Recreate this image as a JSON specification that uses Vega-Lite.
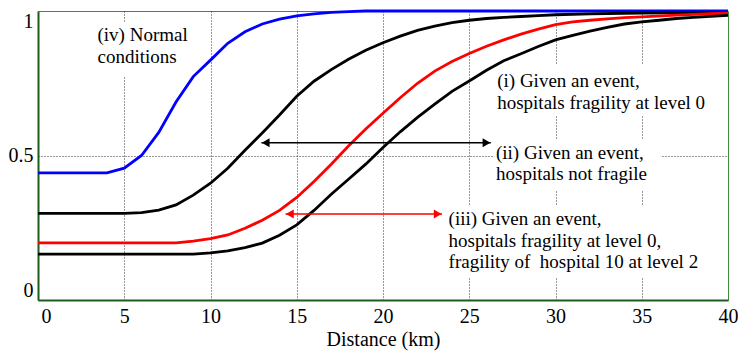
{
  "$schema": "https://vega.github.io/schema/vega-lite/v6.json",
  "width": 690,
  "height": 289,
  "autosize": {"type": "none"},
  "padding": {"left": 38, "top": 11, "right": 10, "bottom": 51},
  "background": "white",
  "config": {
    "view": {"stroke": "#3c8c3c", "strokeWidth": 1},
    "font": "serif"
  },
  "datasets": {
    "curves": [
      {"scenario": "iv", "km": 0, "p": 0.44}, {"scenario": "iv", "km": 4, "p": 0.44}, {"scenario": "iv", "km": 5, "p": 0.456},
      {"scenario": "iv", "km": 6, "p": 0.5}, {"scenario": "iv", "km": 7, "p": 0.58}, {"scenario": "iv", "km": 8, "p": 0.685},
      {"scenario": "iv", "km": 9, "p": 0.773}, {"scenario": "iv", "km": 10, "p": 0.83}, {"scenario": "iv", "km": 11, "p": 0.888},
      {"scenario": "iv", "km": 12, "p": 0.928}, {"scenario": "iv", "km": 13, "p": 0.955}, {"scenario": "iv", "km": 14, "p": 0.972},
      {"scenario": "iv", "km": 15, "p": 0.983}, {"scenario": "iv", "km": 16, "p": 0.99}, {"scenario": "iv", "km": 17, "p": 0.995},
      {"scenario": "iv", "km": 18, "p": 0.998}, {"scenario": "iv", "km": 19, "p": 1}, {"scenario": "iv", "km": 30, "p": 1}, {"scenario": "iv", "km": 40, "p": 1},

      {"scenario": "ii", "km": 0, "p": 0.3}, {"scenario": "ii", "km": 5, "p": 0.3}, {"scenario": "ii", "km": 6, "p": 0.302},
      {"scenario": "ii", "km": 7, "p": 0.311}, {"scenario": "ii", "km": 8, "p": 0.329}, {"scenario": "ii", "km": 9, "p": 0.363},
      {"scenario": "ii", "km": 10, "p": 0.404}, {"scenario": "ii", "km": 11, "p": 0.456}, {"scenario": "ii", "km": 12, "p": 0.518},
      {"scenario": "ii", "km": 13, "p": 0.578}, {"scenario": "ii", "km": 14, "p": 0.64}, {"scenario": "ii", "km": 15, "p": 0.705},
      {"scenario": "ii", "km": 16, "p": 0.757}, {"scenario": "ii", "km": 17, "p": 0.797}, {"scenario": "ii", "km": 18, "p": 0.833},
      {"scenario": "ii", "km": 19, "p": 0.864}, {"scenario": "ii", "km": 20, "p": 0.89}, {"scenario": "ii", "km": 21, "p": 0.913},
      {"scenario": "ii", "km": 22, "p": 0.933}, {"scenario": "ii", "km": 23, "p": 0.948}, {"scenario": "ii", "km": 24, "p": 0.96},
      {"scenario": "ii", "km": 25, "p": 0.968}, {"scenario": "ii", "km": 26, "p": 0.974}, {"scenario": "ii", "km": 27, "p": 0.978},
      {"scenario": "ii", "km": 28, "p": 0.981}, {"scenario": "ii", "km": 29, "p": 0.984}, {"scenario": "ii", "km": 30, "p": 0.987},
      {"scenario": "ii", "km": 32, "p": 0.99}, {"scenario": "ii", "km": 35, "p": 0.993}, {"scenario": "ii", "km": 40, "p": 0.995},

      {"scenario": "iii", "km": 0, "p": 0.198}, {"scenario": "iii", "km": 8, "p": 0.198}, {"scenario": "iii", "km": 9, "p": 0.204},
      {"scenario": "iii", "km": 10, "p": 0.212}, {"scenario": "iii", "km": 11, "p": 0.225}, {"scenario": "iii", "km": 12, "p": 0.248},
      {"scenario": "iii", "km": 13, "p": 0.276}, {"scenario": "iii", "km": 14, "p": 0.31}, {"scenario": "iii", "km": 15, "p": 0.355},
      {"scenario": "iii", "km": 16, "p": 0.41}, {"scenario": "iii", "km": 17, "p": 0.47}, {"scenario": "iii", "km": 18, "p": 0.533},
      {"scenario": "iii", "km": 19, "p": 0.592}, {"scenario": "iii", "km": 20, "p": 0.646}, {"scenario": "iii", "km": 21, "p": 0.7},
      {"scenario": "iii", "km": 22, "p": 0.75}, {"scenario": "iii", "km": 23, "p": 0.792}, {"scenario": "iii", "km": 24, "p": 0.825},
      {"scenario": "iii", "km": 25, "p": 0.853}, {"scenario": "iii", "km": 26, "p": 0.878}, {"scenario": "iii", "km": 27, "p": 0.9},
      {"scenario": "iii", "km": 28, "p": 0.92}, {"scenario": "iii", "km": 29, "p": 0.937}, {"scenario": "iii", "km": 30, "p": 0.953},
      {"scenario": "iii", "km": 31, "p": 0.962}, {"scenario": "iii", "km": 32, "p": 0.968}, {"scenario": "iii", "km": 33, "p": 0.973},
      {"scenario": "iii", "km": 34, "p": 0.977}, {"scenario": "iii", "km": 35, "p": 0.98}, {"scenario": "iii", "km": 37, "p": 0.986},
      {"scenario": "iii", "km": 40, "p": 0.993},

      {"scenario": "i", "km": 0, "p": 0.159}, {"scenario": "i", "km": 9, "p": 0.159}, {"scenario": "i", "km": 10, "p": 0.163},
      {"scenario": "i", "km": 11, "p": 0.17}, {"scenario": "i", "km": 12, "p": 0.181}, {"scenario": "i", "km": 13, "p": 0.197},
      {"scenario": "i", "km": 14, "p": 0.224}, {"scenario": "i", "km": 15, "p": 0.26}, {"scenario": "i", "km": 16, "p": 0.31},
      {"scenario": "i", "km": 17, "p": 0.366}, {"scenario": "i", "km": 18, "p": 0.418}, {"scenario": "i", "km": 19, "p": 0.47},
      {"scenario": "i", "km": 20, "p": 0.528}, {"scenario": "i", "km": 21, "p": 0.582}, {"scenario": "i", "km": 22, "p": 0.632},
      {"scenario": "i", "km": 23, "p": 0.678}, {"scenario": "i", "km": 24, "p": 0.722}, {"scenario": "i", "km": 25, "p": 0.758},
      {"scenario": "i", "km": 26, "p": 0.795}, {"scenario": "i", "km": 27, "p": 0.828}, {"scenario": "i", "km": 28, "p": 0.852},
      {"scenario": "i", "km": 29, "p": 0.877}, {"scenario": "i", "km": 30, "p": 0.9}, {"scenario": "i", "km": 31, "p": 0.916},
      {"scenario": "i", "km": 32, "p": 0.93}, {"scenario": "i", "km": 33, "p": 0.943}, {"scenario": "i", "km": 34, "p": 0.955},
      {"scenario": "i", "km": 35, "p": 0.962}, {"scenario": "i", "km": 36, "p": 0.968}, {"scenario": "i", "km": 37, "p": 0.974},
      {"scenario": "i", "km": 38, "p": 0.978}, {"scenario": "i", "km": 40, "p": 0.985}
    ],
    "boxes": [
      {"box": "iv", "km": 3.3, "km2": 8.9, "p": 0.962, "p2": 0.772},
      {"box": "i", "km": 26.45, "km2": 39.1, "p": 0.813, "p2": 0.64},
      {"box": "ii", "km": 26.45, "km2": 36.1, "p": 0.554, "p2": 0.381},
      {"box": "iii", "km": 23.6, "km2": 38.7, "p": 0.329, "p2": 0.076}
    ],
    "arrows": [
      {"arrow": "black", "km": 12.95, "km2": 26.25, "p": 0.544},
      {"arrow": "red", "km": 14.35, "km2": 23.42, "p": 0.2976}
    ],
    "heads": [
      {"arrow": "black", "end": "left", "km": 13.2, "p": 0.544},
      {"arrow": "black", "end": "right", "km": 26.0, "p": 0.544},
      {"arrow": "red", "end": "left", "km": 14.6, "p": 0.2976},
      {"arrow": "red", "end": "right", "km": 23.17, "p": 0.2976}
    ],
    "labels": [
      {"label": "iv", "km": 3.45, "p": 0.896, "text": "(iv) Normal\nconditions"},
      {"label": "i", "km": 26.62, "p": 0.736, "text": "(i) Given an event,\nhospitals fragility at level 0"},
      {"label": "ii", "km": 26.55, "p": 0.489, "text": "(ii) Given an event,\nhospitals not fragile"},
      {"label": "iii", "km": 23.8, "p": 0.2595, "text": "(iii) Given an event,\nhospitals fragility at level 0,\nfragility of\u00a0 hospital 10 at level 2"}
    ]
  },
  "layer": [
    {
      "data": {"name": "boxes"},
      "mark": {"type": "rect", "fill": "white", "stroke": null},
      "encoding": {
        "x": {
          "field": "km", "type": "quantitative",
          "scale": {"domain": [0, 40], "nice": false, "zero": false},
          "axis": {
            "title": "Distance (km)",
            "values": [0, 5, 10, 15, 20, 25, 30, 35, 40],
            "ticks": false,
            "labelFontSize": 20,
            "labelFont": "serif",
            "labelColor": "#000000",
            "labelPadding": 6,
            "labelFlush": false,
            "labelOffset": {"condition": {"test": "datum.value == 0", "value": 8}, "value": 0},
            "titleFont": "serif",
            "titleFontSize": 20,
            "titleFontWeight": "normal",
            "titleColor": "#000000",
            "titlePadding": 3,
            "domainColor": "#1d5e1d",
            "domainWidth": 2,
            "grid": true,
            "gridColor": "#333333",
            "gridDash": [1, 2],
            "gridWidth": 1,
            "gridOpacity": {"condition": {"test": "datum.value == 0 || datum.value == 40", "value": 0}, "value": 1}
          }
        },
        "x2": {"field": "km2"},
        "y": {
          "field": "p", "type": "quantitative",
          "scale": {"domain": [0, 1], "nice": false},
          "axis": {
            "title": null,
            "values": [0, 0.5, 1],
            "format": "~g",
            "ticks": false,
            "labelFontSize": 20,
            "labelFont": "serif",
            "labelColor": "#000000",
            "labelPadding": 5,
            "labelFlush": true,
            "domainColor": "#1d5e1d",
            "domainWidth": 2,
            "grid": true,
            "gridColor": "#333333",
            "gridDash": [1, 2],
            "gridWidth": 1,
            "gridOpacity": {"condition": {"test": "datum.value == 0.5", "value": 1}, "value": 0}
          }
        },
        "y2": {"field": "p2"}
      }
    },
    {
      "data": {"name": "curves"},
      "mark": {"type": "line", "strokeWidth": 2.8, "interpolate": "linear"},
      "encoding": {
        "x": {"field": "km", "type": "quantitative"},
        "y": {"field": "p", "type": "quantitative"},
        "detail": {"field": "scenario"},
        "color": {
          "field": "scenario", "type": "nominal",
          "scale": {"domain": ["i", "ii", "iii", "iv", "black", "red"], "range": ["#000000", "#000000", "#ff0000", "#0000ff", "#000000", "#ff0000"]},
          "legend": null
        }
      }
    },
    {
      "data": {"name": "arrows"},
      "mark": {"type": "rule", "strokeWidth": 1.4},
      "encoding": {
        "x": {"field": "km", "type": "quantitative"},
        "x2": {"field": "km2"},
        "y": {"field": "p", "type": "quantitative"},
        "color": {"field": "arrow", "type": "nominal", "legend": null}
      }
    },
    {
      "data": {"name": "heads"},
      "mark": {"type": "point", "filled": true, "size": 80, "opacity": 1},
      "encoding": {
        "x": {"field": "km", "type": "quantitative"},
        "y": {"field": "p", "type": "quantitative"},
        "color": {"field": "arrow", "type": "nominal", "legend": null},
        "shape": {
          "field": "end", "type": "nominal",
          "scale": {"domain": ["left", "right"], "range": ["triangle-left", "triangle-right"]},
          "legend": null
        }
      }
    },
    {
      "data": {"name": "labels"},
      "mark": {"type": "text", "align": "left", "baseline": "alphabetic", "fontSize": 19, "font": "serif", "lineBreak": "\n", "lineHeight": 21.5, "color": "#000000"},
      "encoding": {
        "x": {"field": "km", "type": "quantitative"},
        "y": {"field": "p", "type": "quantitative"},
        "text": {"field": "text"}
      }
    }
  ]
}
